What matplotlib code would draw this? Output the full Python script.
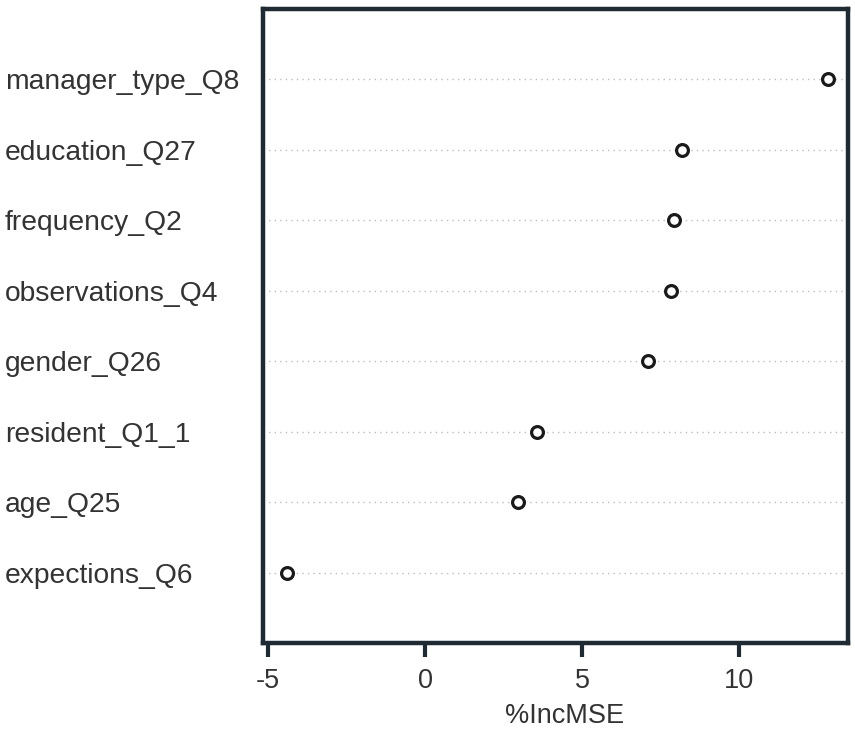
import matplotlib.pyplot as plt

# variable importance values (%IncMSE), bottom to top
variables = ["expections_Q6", "age_Q25", "resident_Q1_1", "gender_Q26",
             "observations_Q4", "frequency_Q2", "education_Q27", "manager_type_Q8"]
inc_mse = [-4.40, 2.97, 3.56, 7.10, 7.83, 7.93, 8.18, 12.82]
xticks = [-5, 0, 5, 10]

plt.rcParams['font.family'] = ['Liberation Sans', 'DejaVu Sans']
frame_col = "#1f2a33"
text_col = "#333333"
fs = 19.5

fig = plt.figure(figsize=(8.55, 7.41), dpi=100)
ax = fig.add_axes([0.3076, 0.1323, 0.9918 - 0.3076, 0.9879 - 0.1323])

ypos = list(range(1, len(variables) + 1))
for y in ypos:
    ax.axhline(y, color="#bdbdbd", lw=1.0, ls=(0, (1, 3)), zorder=1)
ax.plot(inc_mse, ypos, ls="none", marker="o", markersize=8.5,
        markerfacecolor="white", markeredgecolor="#1a1a1a",
        markeredgewidth=2.3, zorder=3)

ax.set_xlim(-5.16, 13.47)
ax.set_ylim(0, 9)
ax.set_xticks(xticks)
ax.set_xticklabels([str(t) for t in xticks], fontsize=fs, color=text_col)
ax.set_yticks(ypos)
ax.set_yticklabels(variables, fontsize=20.3, color=text_col, ha="left")
ax.tick_params(axis="y", length=0, pad=186)
ax.tick_params(axis="x", length=10, width=3, color=frame_col, pad=8)
ax.set_xlabel("%IncMSE", fontsize=fs, color=text_col)
ax.xaxis.set_label_coords(0.516, -0.095)

for s in ax.spines.values():
    s.set_linewidth(3.2)
    s.set_color(frame_col)

fig.savefig("out.png", dpi=100)
